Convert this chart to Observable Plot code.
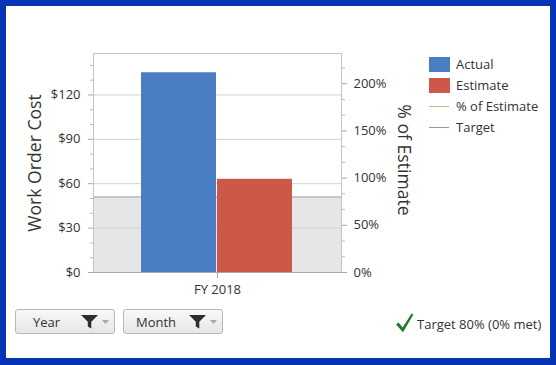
<!DOCTYPE html>
<html>
<head>
<meta charset="utf-8">
<script src="https://cdn.jsdelivr.net/npm/d3@7"></script>
<script src="https://cdn.jsdelivr.net/npm/@observablehq/plot@0.6"></script>
<style>
  html, body { margin: 0; padding: 0; }
  body { width: 556px; height: 365px; background: #0634b4; position: relative; overflow: hidden;
         font-family: "Open Sans", sans-serif; color: #333; }
  #inner { position: absolute; left: 6px; top: 6px; width: 544px; height: 352px; background: #fff; }
  #chart { position: absolute; left: 0; top: 0; }
  .abs { position: absolute; white-space: nowrap; }
  .title { font-size: 17.6px; color: #333; transform: translate(-50%, -50%) rotate(-90deg); }
  .title.right { transform: translate(-50%, -50%) rotate(90deg); }
  .leg { font-size: 13px; color: #333; line-height: 16px; }
  .sw { position: absolute; width: 21px; height: 15px; }
  .ln { position: absolute; width: 20px; height: 1px; }
  .btn { position: absolute; top: 309px; height: 23px; width: 98px; border: 1px solid #b8b8b8; border-radius: 3px;
         background: linear-gradient(#f8f8f8, #e6e6e6); box-sizing: content-box; }
  .btn span { position: absolute; top: 3px; font-size: 13px; color: #333; }
  .btn svg { position: absolute; }
</style>
</head>
<body>
<div id="inner"></div>
<div id="chart"></div>
<script>
// ---- data ----
const years = ["FY 2018"];
const series = ["Actual", "Estimate"];
const values = [135, 63];            // Work Order Cost ($)
const seriesColors = ["#4a7ec2", "#cb5848"];
const costTicks = [0, 30, 60, 90, 120];
const costMinor = [10, 20, 40, 50, 70, 80, 100, 110, 130, 140];
const pctTicks = [0, 50, 100, 150, 200];
const pctMinor = [16.67, 33.33, 66.67, 83.33, 116.67, 133.33, 166.67, 183.33, 216.67];
const targetPct = [80];
const costMax = 148;
const pctMax = 232;
const k = costMax / pctMax;          // $ per % (maps right axis onto left scale)

const bars = series.map((s, i) => ({year: years[0], series: s, value: values[i]}));

const chart = Plot.plot({
  width: 556,
  height: 365,
  marginLeft: 93,
  marginRight: 215,
  marginTop: 53,
  marginBottom: 93,
  style: {fontFamily: "'Open Sans', sans-serif", fontSize: "13px", color: "#333", background: "transparent"},
  fx: {domain: years, padding: 0},
  x: {domain: series, paddingInner: 0.013, paddingOuter: 0.627},
  y: {domain: [0, costMax]},
  color: {domain: series, range: seriesColors},
  marks: [
    Plot.rect(targetPct, {y1: 0, y2: d => d * k, fill: "#e6e6e6"}),
    Plot.gridY(costTicks.filter(d => d > 0), {stroke: "#d2d2d2", strokeOpacity: 1}),
    Plot.ruleY(targetPct, {y: d => d * k, stroke: "#a0a0a0"}),
    Plot.barY(bars, {fx: "year", x: "series", y: "value", fill: "series"}),
    Plot.frame({stroke: "#c4c4c4"}),
    Plot.ruleY([0], {stroke: "#a8a8a8"}),
    Plot.axisY(costTicks, {anchor: "left", tickFormat: d => "$" + d, tickSize: 5, tickPadding: 8, stroke: "#a8a8a8", fill: "#333", label: null}),
    Plot.axisY(costMinor, {anchor: "left", tickFormat: () => "", tickSize: 3, stroke: "#b8b8b8", label: null}),
    Plot.axisY(pctTicks.map(p => p * k), {anchor: "right", tickFormat: v => Math.round(v / k) + "%", tickSize: 5, tickPadding: 7, stroke: "#a8a8a8", fill: "#333", label: null}),
    Plot.axisY(pctMinor.map(p => p * k), {anchor: "right", tickFormat: () => "", tickSize: 3, stroke: "#b8b8b8", label: null}),
    Plot.axisX({ticks: [], label: null}),
    Plot.axisFx({anchor: "bottom", tickSize: 6, tickPadding: 6, stroke: "#a8a8a8", fill: "#333", label: null})
  ]
});
document.getElementById("chart").appendChild(chart);

// ---- titles ----
function addDiv(cls, text, css) {
  const d = document.createElement("div");
  d.className = "abs " + cls;
  d.textContent = text;
  Object.assign(d.style, css);
  document.body.appendChild(d);
  return d;
}
addDiv("title", "Work Order Cost", {left: "34px", top: "163px"});
addDiv("title right", "% of Estimate", {left: "405px", top: "160px"});

// ---- legend ----
const legendItems = [
  {label: series[0], kind: "sw", color: seriesColors[0]},
  {label: series[1], kind: "sw", color: seriesColors[1]},
  {label: "% of Estimate", kind: "ln", color: "#c9b77a"},
  {label: "Target", kind: "ln", color: "#9a9a9a"}
];
const legendY = [64.5, 85.5, 106.5, 127.5];
legendItems.forEach((it, i) => {
  const cy = legendY[i];
  const m = document.createElement("div");
  m.className = it.kind;
  m.style.background = it.color;
  m.style.left = "429px";
  m.style.top = (it.kind === "sw" ? cy - 7.5 : cy - 0.5) + "px";
  document.body.appendChild(m);
  addDiv("leg", it.label, {left: "456px", top: (cy - 8.5) + "px"});
});

// ---- filter buttons ----
const buttons = [{label: "Year", left: 15}, {label: "Month", left: 123}];
buttons.forEach(b => {
  const d = document.createElement("div");
  d.className = "btn";
  d.style.left = b.left + "px";
  d.innerHTML = `<span style="left:${b.label === "Year" ? 17 : 12}px">${b.label}</span>
    <svg style="left:65px;top:5px" width="18" height="14" viewBox="0 0 18 14"><path d="M0 0H17L10.3 6.8V13.5L6.8 11.5V6.8Z" fill="#2e2e2e"/></svg>
    <svg style="left:86px;top:10px" width="7" height="4" viewBox="0 0 7 4"><path d="M0 0H7L3.5 4Z" fill="#a8a8a8"/></svg>`;
  document.body.appendChild(d);
});

// ---- target status ----
const st = document.createElement("div");
st.className = "abs";
st.style.left = "396px";
st.style.top = "313px";
st.innerHTML = `<svg width="18" height="20" viewBox="0 0 18 20" style="position:absolute;left:0;top:0"><path d="M0 11.5L2.6 9.6L6.6 14.6L15.6 0.4L17.4 1.6L7 19.2Z" fill="#1f7a24"/></svg>
  <span style="position:absolute;left:21px;top:2px;font-size:13px;color:#333">Target 80% (0% met)</span>`;
document.body.appendChild(st);
</script>
</body>
</html>
